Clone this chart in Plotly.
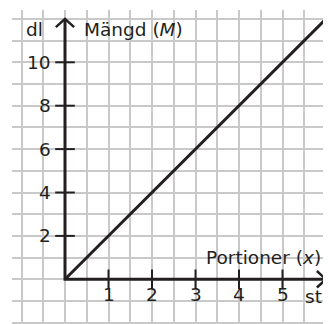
import plotly.graph_objects as go

# data
portioner = [0, 1, 2, 3, 4, 5, 6]
mangd = [0, 2, 4, 6, 8, 10, 12]
x_ticks = [1, 2, 3, 4, 5]
y_ticks = [2, 4, 6, 8, 10]
x_title = "Portioner (<i>x</i>)"
y_title = "Mängd (<i>M</i>)"
x_unit = "st"
y_unit = "dl"

INK = "#231f20"
GRID = "#c9c9c9"
FONT = dict(family="DejaVu Sans", size=18.5, color=INK)

x_max = max(portioner)
y_max = max(mangd)

fig = go.Figure()

# the line M = 2x
fig.add_trace(go.Scatter(x=portioner, y=mangd, mode="lines",
                         line=dict(color=INK, width=3), hoverinfo="skip"))

# axes drawn by hand so they sit at zero
fig.add_trace(go.Scatter(x=[0, 0, x_max], y=[y_max, 0, 0], mode="lines",
                         line=dict(color=INK, width=3), hoverinfo="skip"))

# open chevron arrowheads
dx, dy = 0.21, 0.38
fig.add_trace(go.Scatter(x=[-dx, 0, dx], y=[y_max - dy, y_max, y_max - dy], mode="lines",
                         line=dict(color=INK, width=2.5), hoverinfo="skip"))
fig.add_trace(go.Scatter(x=[x_max - dx, x_max, x_max - dx], y=[dy, 0, -dy], mode="lines",
                         line=dict(color=INK, width=2.5), hoverinfo="skip"))

# tick marks crossing the axes
fig.add_trace(go.Scatter(x=x_ticks, y=[0] * len(x_ticks), mode="markers",
                         marker=dict(symbol="line-ns", size=14, line=dict(color=INK, width=2)),
                         hoverinfo="skip"))
fig.add_trace(go.Scatter(x=[0] * len(y_ticks), y=y_ticks, mode="markers",
                         marker=dict(symbol="line-ew", size=14, line=dict(color=INK, width=2)),
                         hoverinfo="skip"))

annotations = []
for t in x_ticks:
    annotations.append(dict(x=t, y=-0.72, text=str(t), showarrow=False,
                            xanchor="center", yanchor="middle", font=FONT))
for t in y_ticks:
    annotations.append(dict(x=-0.28, y=t, text=str(t), showarrow=False,
                            xanchor="right", yanchor="middle", font=FONT))
annotations += [
    dict(x=-0.45, y=11.5, text=y_unit, showarrow=False, xanchor="right", yanchor="middle", font=FONT),
    dict(x=0.4, y=11.5, text=y_title, showarrow=False, xanchor="left", yanchor="middle", font=FONT),
    dict(x=5.92, y=1.0, text=x_title, showarrow=False, xanchor="right", yanchor="middle", font=FONT),
    dict(x=5.72, y=-0.8, text=x_unit, showarrow=False, xanchor="center", yanchor="middle", font=FONT),
]

# the page body has an 8px margin, so the plot area is pulled back by that much
fig.update_layout(
    width=331, height=324,
    margin=dict(l=4, r=8, t=2, b=8),
    paper_bgcolor="white", plot_bgcolor="white",
    showlegend=False,
    annotations=annotations,
)
fig.update_xaxes(range=[(12 - 65) / 43.5, (331 - 65) / 43.5], tick0=0, dtick=0.5,
                 showgrid=True, gridcolor=GRID, gridwidth=1.5,
                 zeroline=False, showticklabels=False, ticks="", showline=False,
                 fixedrange=True)
fig.update_yaxes(range=[(279.3 - 324) / 21.7, (279.3 - 10) / 21.7], tick0=0, dtick=1,
                 showgrid=True, gridcolor=GRID, gridwidth=1.5,
                 zeroline=False, showticklabels=False, ticks="", showline=False,
                 fixedrange=True)

fig.write_html("out.html", config={"displayModeBar": False})
